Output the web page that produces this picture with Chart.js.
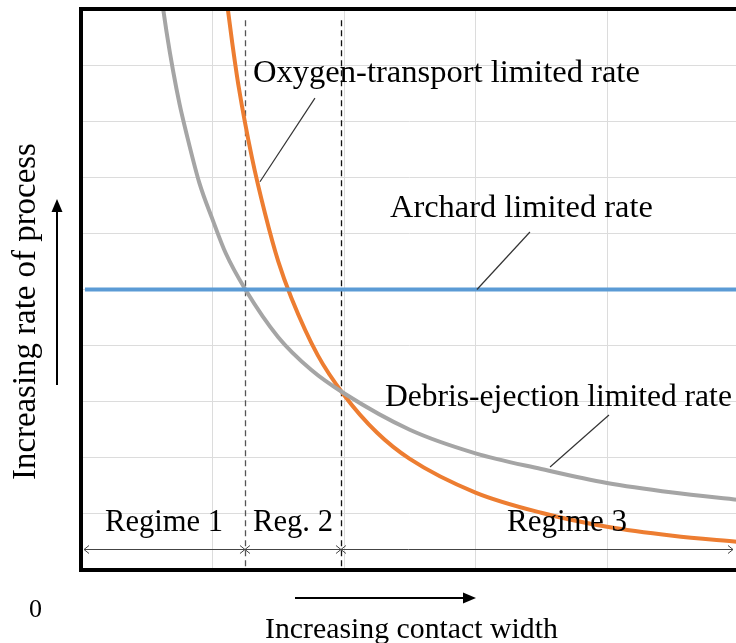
<!DOCTYPE html>
<html>
<head>
<meta charset="utf-8">
<script src="https://cdn.jsdelivr.net/npm/chart.js@4/dist/chart.umd.min.js"></script>
<style>
  html, body { margin: 0; padding: 0; background: #ffffff; overflow: hidden; }
  #wrap { width: 750px; height: 643px; }
</style>
</head>
<body>
<div id="wrap"><canvas id="c" width="750" height="643"></canvas></div>
<script>
// ---- Data (arbitrary units) ----
const debrisWidth  = [0.6, 0.65, 0.7, 0.75, 0.8, 0.9, 1.0, 1.1, 1.25, 1.5, 1.75, 2.0, 2.5, 3.0, 3.5, 4.0, 4.5, 5.0];
const debrisRate   = [10.4, 9.6, 8.9, 8.3, 7.8, 6.9, 6.25, 5.65, 5.0, 4.15, 3.57, 3.15, 2.5, 2.08, 1.8, 1.55, 1.38, 1.25];

const oxygenWidth  = [1.1, 1.15, 1.2, 1.3, 1.4, 1.5, 1.6, 1.8, 2.0, 2.25, 2.5, 3.0, 3.5, 4.0, 4.5, 5.0];
const oxygenRate   = [10.3, 9.4, 8.6, 7.35, 6.35, 5.5, 4.85, 3.83, 3.12, 2.45, 1.98, 1.38, 1.02, 0.77, 0.61, 0.5];

const archardWidth = [0.03, 5.0];
const archardRate  = [5.0, 5.0];

const regimeBounds = [1.247, 1.977];           // dashed regime boundaries
const regimeLabels = ["Regime 1", "Reg. 2", "Regime 3"];
const seriesLabels = ["Debris-ejection limited rate", "Oxygen-transport limited rate", "Archard limited rate"];
const xTitle = "Increasing contact width";
const yTitle = "Increasing rate of process";
const originLabel = "0";

const toXY = (xs, ys) => xs.map((x, i) => ({ x: x, y: ys[i] }));

const FONT = '"Liberation Serif", "DejaVu Serif", serif';

function fitFont(ctx, text, targetW) {
  ctx.font = '100px ' + FONT;
  const w = ctx.measureText(text).width;
  const size = 100 * targetW / w;
  return size.toFixed(2) + 'px ' + FONT;
}

function arrowHeadOpen(ctx, x, y, dir) { // dir: +1 pointing right, -1 pointing left
  ctx.beginPath();
  ctx.moveTo(x - dir * 5, y - 4);
  ctx.lineTo(x, y);
  ctx.lineTo(x - dir * 5, y + 4);
  ctx.stroke();
}

const decor = {
  id: 'decor',
  beforeDatasetsDraw(chart) {
    const { ctx, scales: { x, y } } = chart;
    ctx.save();
    ctx.lineWidth = 1.3;
    ctx.setLineDash([6, 4]);
    regimeBounds.forEach((b, i) => {
      ctx.strokeStyle = i === 0 ? '#555555' : '#111111';
      const px = Math.round(x.getPixelForValue(b)) + 0.5;
      ctx.beginPath();
      ctx.moveTo(px, y.getPixelForValue(9.8));
      ctx.lineTo(px, y.getPixelForValue(0.05));
      ctx.stroke();
    });
    ctx.restore();
  },
  afterDatasetsDraw(chart) {
    const { ctx, chartArea: a, scales: { x, y } } = chart;
    const X = v => x.getPixelForValue(v);
    const Y = v => y.getPixelForValue(v);
    ctx.save();

    // frame: left, top, bottom thick black
    ctx.strokeStyle = '#000';
    ctx.lineWidth = 4;
    ctx.beginPath();
    ctx.moveTo(a.right + 20, a.top);
    ctx.lineTo(a.left, a.top);
    ctx.lineTo(a.left, a.bottom);
    ctx.lineTo(a.right + 20, a.bottom);
    ctx.stroke();

    // leader lines
    ctx.strokeStyle = '#333';
    ctx.lineWidth = 1.2;
    const leaders = [[1.361, 6.92, 1.779, 8.41], [3.011, 5.0, 3.414, 6.025], [3.567, 1.836, 4.015, 2.763]];
    leaders.forEach(l => {
      ctx.beginPath();
      ctx.moveTo(X(l[0]), Y(l[1]));
      ctx.lineTo(X(l[2]), Y(l[3]));
      ctx.stroke();
    });

    // series annotation texts
    ctx.fillStyle = '#000';
    ctx.textBaseline = 'alphabetic';
    ctx.textAlign = 'left';
    const ann = [
      [seriesLabels[1], 253, 82, 387],
      [seriesLabels[2], 390, 217, 263],
      [seriesLabels[0], 385, 406, 347]
    ];
    ann.forEach(t => {
      ctx.font = fitFont(ctx, t[0], t[3]);
      ctx.fillText(t[0], t[1], t[2]);
    });

    // regime labels
    ctx.textAlign = 'center';
    const regs = [[regimeLabels[0], 164, 118], [regimeLabels[1], 293, 80], [regimeLabels[2], 567, 120]];
    regs.forEach(t => {
      ctx.font = fitFont(ctx, t[0], t[2]);
      ctx.fillText(t[0], t[1], 531);
    });

    // regime double arrows
    ctx.strokeStyle = '#444';
    ctx.lineWidth = 1;
    const ay = 549.5;
    const x0 = a.left + 3, x1 = X(regimeBounds[0]), x2 = X(regimeBounds[1]), x3 = 733;
    ctx.beginPath();
    ctx.moveTo(x0, ay); ctx.lineTo(x3, ay);
    ctx.stroke();
    arrowHeadOpen(ctx, x0, ay, -1);
    arrowHeadOpen(ctx, x1, ay, 1);
    arrowHeadOpen(ctx, x1, ay, -1);
    arrowHeadOpen(ctx, x2, ay, 1);
    arrowHeadOpen(ctx, x2, ay, -1);
    arrowHeadOpen(ctx, x3, ay, 1);

    // axis titles
    ctx.fillStyle = '#000';
    ctx.font = fitFont(ctx, xTitle, 293);
    ctx.textAlign = 'left';
    ctx.fillText(xTitle, 265, 638);

    ctx.font = fitFont(ctx, originLabel + '0000', 13 * 5);
    ctx.fillText(originLabel, 29, 617);

    ctx.save();
    ctx.translate(35, 480);
    ctx.rotate(-Math.PI / 2);
    ctx.font = fitFont(ctx, yTitle, 337);
    ctx.textAlign = 'left';
    ctx.fillText(yTitle, 0, 0);
    ctx.restore();

    // axis arrows (filled heads)
    ctx.strokeStyle = '#000';
    ctx.fillStyle = '#000';
    ctx.lineWidth = 2;
    ctx.beginPath(); ctx.moveTo(295, 598); ctx.lineTo(466, 598); ctx.stroke();
    ctx.beginPath(); ctx.moveTo(476, 598); ctx.lineTo(463, 592.5); ctx.lineTo(463, 603.5); ctx.closePath(); ctx.fill();

    ctx.beginPath(); ctx.moveTo(57, 385); ctx.lineTo(57, 210); ctx.stroke();
    ctx.beginPath(); ctx.moveTo(57, 199); ctx.lineTo(51.5, 212); ctx.lineTo(62.5, 212); ctx.closePath(); ctx.fill();

    ctx.restore();
  }
};

new Chart(document.getElementById('c'), {
  type: 'line',
  data: {
    datasets: [
      { label: seriesLabels[2], data: toXY(archardWidth, archardRate), borderColor: '#5b9bd5', borderWidth: 4, pointRadius: 0 },
      { label: seriesLabels[0], data: toXY(debrisWidth, debrisRate), borderColor: '#a5a5a5', borderWidth: 4, pointRadius: 0, cubicInterpolationMode: 'monotone' },
      { label: seriesLabels[1], data: toXY(oxygenWidth, oxygenRate), borderColor: '#ed7d31', borderWidth: 4, pointRadius: 0, cubicInterpolationMode: 'monotone' }
    ]
  },
  options: {
    responsive: false,
    animation: false,
    devicePixelRatio: 1,
    layout: { padding: { left: 81, top: 9, right: 750 - 738.5, bottom: 643 - 570 } },
    plugins: { legend: { display: false }, tooltip: { enabled: false } },
    scales: {
      x: {
        type: 'linear', min: 0, max: 5,
        ticks: { display: false, stepSize: 1 },
        grid: { color: '#dcdcdc', lineWidth: 1, drawTicks: false },
        border: { display: false },
        afterFit: s => { s.height = 0; }
      },
      y: {
        type: 'linear', min: 0, max: 10,
        ticks: { display: false, stepSize: 1 },
        grid: { color: '#dcdcdc', lineWidth: 1, drawTicks: false },
        border: { display: false },
        afterFit: s => { s.width = 0; }
      }
    }
  },
  plugins: [decor]
});
</script>
</body>
</html>
